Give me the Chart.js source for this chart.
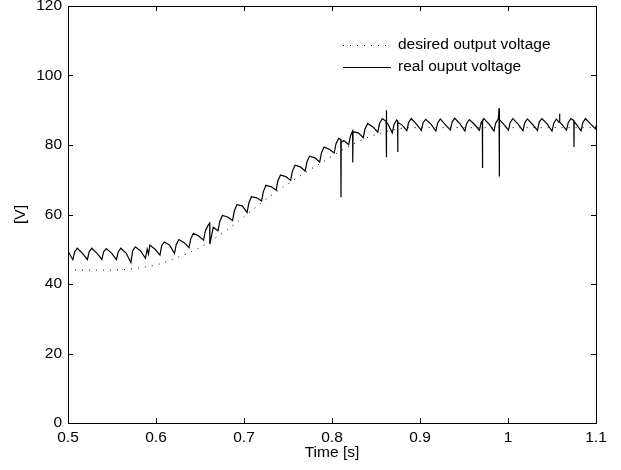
<!DOCTYPE html>
<html>
<head>
<meta charset="utf-8">
<script src="https://cdn.jsdelivr.net/npm/chart.js@4.4.1/dist/chart.umd.min.js"></script>
<style>
    html, body { margin: 0; padding: 0; background: #fff; }
    #chart { display: block; }
</style>
</head>
<body>
<canvas id="chart" width="621" height="470"></canvas>
<script>
const xTicks = [0.5, 0.6, 0.7, 0.8, 0.9, 1.0, 1.1];
const yTicks = [0, 20, 40, 60, 80, 100, 120];

const seriesLabels = ['desired output voltage', 'real ouput voltage'];

// desired output voltage (dotted)
const desiredTime = [
    0.50, 0.51, 0.52, 0.53, 0.54, 0.55, 0.56, 0.57, 0.58, 0.59,
    0.60, 0.61, 0.62, 0.63, 0.64, 0.65, 0.66, 0.67, 0.68, 0.69,
    0.70, 0.71, 0.72, 0.73, 0.74, 0.75, 0.76, 0.77, 0.78, 0.79,
    0.80, 0.81, 0.82, 0.83, 0.84, 0.85, 0.86, 0.87, 0.88, 0.89,
    0.90, 0.95, 1.00, 1.05, 1.10
];
const desiredVoltage = [
    44.0, 44.0, 44.0, 44.0, 44.0, 44.0, 44.1, 44.3, 44.6, 45.0,
    45.5, 46.3, 47.2, 48.2, 49.3, 50.5, 52.0, 53.7, 55.5, 57.4,
    59.4, 61.4, 63.4, 65.3, 67.1, 68.8, 70.5, 72.1, 73.7, 75.2,
    76.8, 78.3, 79.7, 81.0, 82.1, 83.0, 83.8, 84.4, 84.8, 85.0,
    85.0, 85.0, 85.0, 85.0, 85.0
];

// real output voltage (solid), one line per ripple period
const realTime = [
    0.5000,
    0.5055, 0.5075, 0.5105, 0.5165,
    0.5220, 0.5240, 0.5270, 0.5330,
    0.5385, 0.5405, 0.5435, 0.5495,
    0.5550, 0.5570, 0.5600, 0.5660,
    0.5715, 0.5735, 0.5765, 0.5825,
    0.5880, 0.5900, 0.5915, 0.5930, 0.5990,
    0.6045, 0.6065, 0.6095, 0.6155,
    0.6210, 0.6230, 0.6260, 0.6320,
    0.6375, 0.6395, 0.6425, 0.6485,
    0.6540, 0.6560, 0.6590, 0.6610, 0.6612, 0.6650,
    0.6705, 0.6725, 0.6755, 0.6815,
    0.6870, 0.6890, 0.6920, 0.6980,
    0.7035, 0.7055, 0.7085, 0.7145,
    0.7200, 0.7220, 0.7250, 0.7310,
    0.7365, 0.7385, 0.7415, 0.7475,
    0.7530, 0.7550, 0.7580, 0.7640,
    0.7695, 0.7715, 0.7745, 0.7805,
    0.7860, 0.7880, 0.7910, 0.7970,
    0.8025, 0.8045, 0.8075, 0.8100, 0.8102, 0.8105, 0.8135,
    0.8190, 0.8210, 0.8234, 0.8236, 0.8239, 0.8300,
    0.8355, 0.8375, 0.8405, 0.8465,
    0.8520, 0.8540, 0.8570, 0.8615, 0.8617, 0.8619, 0.8621, 0.8630,
    0.8685, 0.8705, 0.8735, 0.8745, 0.8747, 0.8749, 0.8795,
    0.8850, 0.8870, 0.8900, 0.8960,
    0.9015, 0.9035, 0.9065, 0.9125,
    0.9180, 0.9200, 0.9230, 0.9290,
    0.9345, 0.9365, 0.9395, 0.9455,
    0.9510, 0.9530, 0.9560, 0.9620,
    0.9675, 0.9695, 0.9708, 0.9710, 0.9712, 0.9725, 0.9785,
    0.9840, 0.9860, 0.9890, 0.9898, 0.9900, 0.9902, 0.9905, 0.9950,
    1.0005, 1.0025, 1.0055, 1.0115,
    1.0170, 1.0190, 1.0220, 1.0280,
    1.0335, 1.0355, 1.0385, 1.0445,
    1.0500, 1.0520, 1.0550, 1.0580, 1.0585, 1.0590, 1.0610,
    1.0665, 1.0685, 1.0715, 1.0748, 1.0750, 1.0752, 1.0775,
    1.0830, 1.0850, 1.0880, 1.0940,
    1.0995, 1.1000
];
const realVoltage = [
    49.5,
    47.0, 49.2, 50.3, 48.8,
    47.0, 49.2, 50.3, 48.8,
    47.1, 49.3, 50.2, 48.9,
    47.0, 49.2, 50.3, 48.9,
    46.2, 49.6, 50.7, 49.5,
    47.4, 50.0, 48.6, 51.2, 50.0,
    48.3, 51.1, 52.1, 51.2,
    48.8, 51.3, 52.8, 51.9,
    50.5, 53.0, 54.6, 53.8,
    52.6, 55.2, 56.8, 57.5, 51.5, 56.3,
    55.3, 58.0, 59.7, 59.3,
    58.3, 61.0, 62.8, 62.5,
    60.6, 63.3, 65.1, 64.8,
    63.9, 66.6, 68.4, 68.0,
    67.0, 69.7, 71.4, 70.9,
    69.8, 72.5, 74.2, 73.7,
    72.5, 75.1, 76.8, 76.3,
    75.1, 77.7, 79.4, 78.8,
    77.7, 80.3, 81.9, 81.6, 65.0, 80.8, 81.3,
    80.1, 82.6, 84.0, 75.0, 83.8, 83.5,
    82.1, 84.6, 86.2, 85.2,
    83.7, 86.1, 87.6, 86.8, 90.0, 76.5, 86.5, 86.3,
    83.5, 85.9, 87.2, 87.0, 78.0, 86.5, 85.8,
    84.1, 86.4, 87.6, 86.0,
    84.2, 86.4, 87.4, 86.0,
    84.0, 86.3, 87.5, 85.8,
    84.3, 86.6, 87.7, 86.1,
    84.0, 86.2, 87.3, 85.9,
    84.2, 86.5, 87.0, 73.4, 86.8, 87.6, 86.0,
    84.0, 86.3, 87.5, 90.6, 70.9, 88.5, 87.3, 86.0,
    84.3, 86.5, 87.6, 86.0,
    84.1, 86.4, 87.5, 85.9,
    84.2, 86.6, 87.6, 86.1,
    84.0, 86.3, 87.5, 86.5, 89.0, 86.6, 86.0,
    84.3, 86.5, 87.6, 87.0, 79.4, 86.8, 86.0,
    84.1, 86.4, 87.6, 86.0,
    84.6, 85.5
];

const FONT = 'Liberation Sans, Arial, Helvetica, sans-serif';
Chart.defaults.font.family = FONT;
Chart.defaults.font.size = 15.5;
Chart.defaults.color = '#000';

const toPoints = (xs, ys) => xs.map((x, i) => ({x: x, y: ys[i]}));

// box + inward tick marks + legend in the top right corner
const matlabAxes = {
    id: 'matlabAxes',
    afterDraw(chart) {
        const ctx = chart.ctx;
        const area = chart.chartArea;
        const xs = chart.scales.x;
        const ys = chart.scales.y;
        const tick = 5;
        ctx.save();
        ctx.strokeStyle = '#000';
        ctx.lineWidth = 1;
        ctx.beginPath();
        xTicks.forEach(v => {
            const px = Math.round(xs.getPixelForValue(v)) + 0.5;
            ctx.moveTo(px, area.bottom);
            ctx.lineTo(px, area.bottom - tick);
            ctx.moveTo(px, area.top);
            ctx.lineTo(px, area.top + tick);
        });
        yTicks.forEach(v => {
            const py = Math.round(ys.getPixelForValue(v)) + 0.5;
            ctx.moveTo(area.left, py);
            ctx.lineTo(area.left + tick, py);
            ctx.moveTo(area.right, py);
            ctx.lineTo(area.right - tick, py);
        });
        ctx.stroke();
        ctx.strokeRect(Math.round(area.left) + 0.5, Math.round(area.top) + 0.5,
            Math.round(area.right - area.left), Math.round(area.bottom - area.top));

        // legend
        const lx = area.right - 253;
        const tx = area.right - 198;
        const rows = [area.top + 39, area.top + 61];
        chart.data.datasets.forEach((ds, i) => {
            ctx.beginPath();
            ctx.setLineDash(ds.borderDash || []);
            ctx.lineWidth = ds.borderWidth;
            ctx.moveTo(lx, rows[i] + 0.5);
            ctx.lineTo(lx + 48, rows[i] + 0.5);
            ctx.stroke();
            ctx.setLineDash([]);
            ctx.fillStyle = '#000';
            ctx.font = '15.5px ' + FONT;
            ctx.textBaseline = 'middle';
            ctx.textAlign = 'left';
            ctx.fillText(ds.label, tx, rows[i]);
        });
        ctx.restore();
    }
};

new Chart(document.getElementById('chart'), {
    type: 'line',
    data: {
        datasets: [
            {
                label: seriesLabels[0],
                data: toPoints(desiredTime, desiredVoltage),
                borderColor: '#000',
                borderWidth: 1,
                borderDash: [1, 6],
                pointRadius: 0,
                tension: 0.4,
                cubicInterpolationMode: 'monotone'
            },
            {
                label: seriesLabels[1],
                data: toPoints(realTime, realVoltage),
                borderColor: '#000',
                borderWidth: 1.2,
                pointRadius: 0,
                tension: 0
            }
        ]
    },
    options: {
        responsive: false,
        animation: false,
        devicePixelRatio: 1,
        layout: {padding: {top: 6, right: 25, left: 0, bottom: 0}},
        plugins: {
            legend: {display: false},
            tooltip: {enabled: false}
        },
        scales: {
            x: {
                type: 'linear',
                min: 0.5,
                max: 1.1,
                afterBuildTicks: s => { s.ticks = xTicks.map(v => ({value: v})); },
                afterFit: s => { s.height = 47; },
                ticks: {
                    padding: 5,
                    maxRotation: 0,
                    callback: v => String(Math.round(v * 10) / 10)
                },
                grid: {display: false, drawTicks: false},
                border: {display: false},
                title: {display: true, text: 'Time [s]', padding: {top: 0, bottom: 8}}
            },
            y: {
                min: 0,
                max: 120,
                afterBuildTicks: s => { s.ticks = yTicks.map(v => ({value: v})); },
                afterFit: s => {
                    s.width = 68;
                    s.paddingTop = 0;
                    s.paddingBottom = 0;
                },
                ticks: {padding: 6},
                grid: {display: false, drawTicks: false},
                border: {display: false},
                title: {display: true, text: '[V]', padding: {top: 11, bottom: 0}}
            }
        }
    },
    plugins: [matlabAxes]
});
</script>
</body>
</html>
